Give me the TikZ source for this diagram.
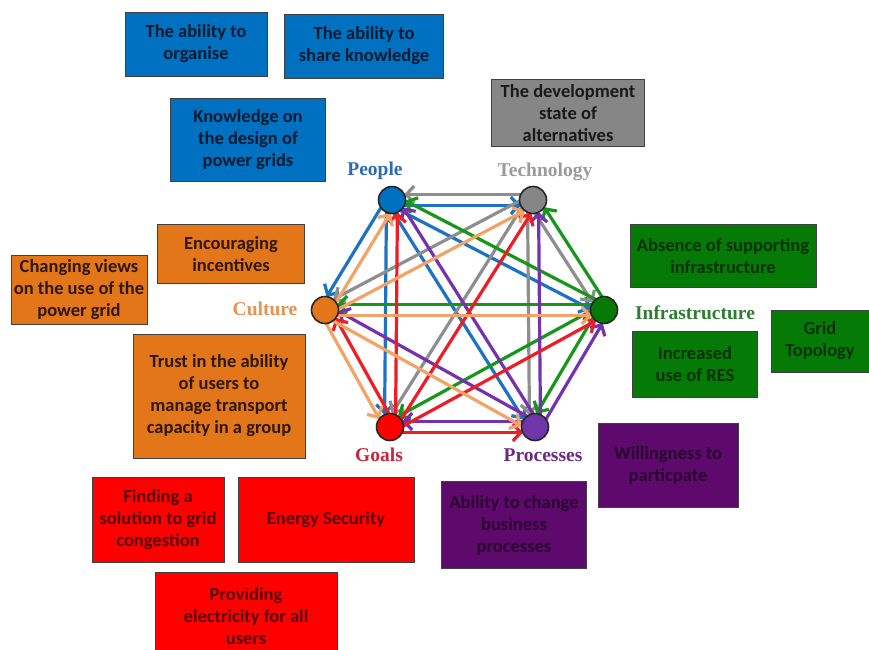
\documentclass[tikz,border=0pt]{standalone}
\usepackage{fontspec}
\setmainfont{Liberation Serif}
\newfontfamily\boxfont{Carlito}
\usetikzlibrary{calc,arrows.meta}
% fills
\definecolor{peoblue}{HTML}{0070C0}
\definecolor{tecgray}{HTML}{868686}
\definecolor{infgreen}{HTML}{067A06}
\definecolor{propurple}{HTML}{5E0A6C}
\definecolor{goared}{HTML}{FF0000}
\definecolor{culorange}{HTML}{E4761A}
\definecolor{hubpurple}{HTML}{7035A8}
% links
\definecolor{lpeo}{HTML}{1C72C4}
\definecolor{ltec}{HTML}{8E8E8E}
\definecolor{linf}{HTML}{16971A}
\definecolor{lpro}{HTML}{7432B0}
\definecolor{lgoa}{HTML}{EE1C24}
\definecolor{lcul}{HTML}{F2A466}
% names
\definecolor{tpeo}{HTML}{2D6AB2}
\definecolor{ttec}{HTML}{9A9A9A}
\definecolor{tinf}{HTML}{2E7D32}
\definecolor{tpro}{HTML}{6A2A82}
\definecolor{tgoa}{HTML}{C4283A}
\definecolor{tcul}{HTML}{E39452}
\tikzset{
  box/.style={draw=black!75, line width=1pt, align=center, inner sep=1pt,
    font=\boxfont\bfseries\fontsize{18.5pt}{22pt}\selectfont},
  bluebox/.style={box, fill=peoblue, text=black!75!peoblue},
  graybox/.style={box, fill=tecgray, text=black!90},
  orangebox/.style={box, fill=culorange, text=black!80!culorange},
  greenbox/.style={box, fill=infgreen, text=black!60!infgreen},
  redbox/.style={box, fill=goared, text=black!65!goared},
  purplebox/.style={box, fill=propurple, text=black!55!propurple},
  hub/.style={circle, draw=black!85, line width=1.6pt, minimum size=27pt, inner sep=0pt},
  hubname/.style={font=\bfseries\fontsize{19.5pt}{20pt}\selectfont},
  link/.style={line width=3.2pt, shorten <=12pt, shorten >=12pt,
    -{Straight Barb[length=8pt,width=17pt]}},
}
\begin{document}
\begin{tikzpicture}[x=1pt,y=-1pt]
\clip (0,0) rectangle (869,649);
\fill[white] (0,0) rectangle (869,649);
% hub places
\coordinate (peo) at (392,200);
\coordinate (tec) at (533,200);
\coordinate (inf) at (604,310);
\coordinate (pro) at (535,427);
\coordinate (goa) at (390,427);
\coordinate (cul) at (325,310);
% links, one each way, in the colour of the source
\foreach \s/\c/\ds in {peo/lpeo/{tec,inf,pro,goa,cul},
                      tec/ltec/{peo,inf,pro,goa,cul},
                      inf/linf/{peo,tec,pro,goa,cul},
                      pro/lpro/{peo,tec,inf,goa,cul},
                      goa/lgoa/{peo,tec,inf,pro,cul},
                      cul/lcul/{peo,tec,inf,pro,goa}}
  \foreach \d in \ds
    \draw[link,color=\c] ($(\s)!5.5pt!-90:(\d)$) -- ($(\d)!5.5pt!90:(\s)$);
% hubs
\node[hub,fill=peoblue] (peohub) at (peo) {};
\node[hub,fill=tecgray] (techub) at (tec) {};
\node[hub,fill=infgreen] (infhub) at (inf) {};
\node[hub,fill=hubpurple] (prohub) at (pro) {};
\node[hub,fill=goared] (goahub) at (goa) {};
\node[hub,fill=culorange] (culhub) at (cul) {};
% hub names
\node[hubname,text=tpeo] (peoname) at (375,171) {People};
\node[hubname,text=ttec] (tecname) at (545,172) {Technology};
\node[hubname,text=tinf] (infname) at (695,313) {Infrastructure};
\node[hubname,text=tpro] (proname) at (543,455) {Processes};
\node[hubname,text=tgoa] (goaname) at (379,455) {Goals};
\node[hubname,text=tcul] (culname) at (265,309) {Culture};
% People
\node[bluebox, minimum width=142pt, minimum height=64pt] (organise) at (196,44) {The ability to\\organise};
\node[bluebox, minimum width=159pt, minimum height=64pt] (share) at (364,46) {The ability to\\share knowledge};
\node[bluebox, minimum width=155pt, minimum height=83pt] (design) at (248,140) {Knowledge on\\the design of\\power grids};
% Technology
\node[graybox, minimum width=153pt, minimum height=67pt] (devstate) at (568,113) {The development\\state of\\alternatives};
% Culture
\node[orangebox, minimum width=147pt, minimum height=59pt] (incentives) at (231,254) {Encouraging\\incentives};
\node[orangebox, minimum width=136pt, minimum height=69pt] (views) at (79,290) {Changing views\\on the use of the\\power grid};
\node[orangebox, minimum width=172pt, minimum height=124pt] (trust) at (219,396) {Trust in the ability\\of users to\\manage transport\\capacity in a group};
% Infrastructure
\node[greenbox, minimum width=186pt, minimum height=63pt] (absence) at (723,256) {Absence of supporting\\infrastructure};
\node[greenbox, minimum width=98pt, minimum height=62pt] (topology) at (820,341) {Grid\\Topology};
\node[greenbox, minimum width=125pt, minimum height=66pt] (res) at (695,364) {Increased\\use of RES};
% Processes
\node[purplebox, minimum width=140pt, minimum height=84pt] (willing) at (668,465) {Willingness to\\particpate};
\node[purplebox, minimum width=145pt, minimum height=87pt] (business) at (514,525) {Ability to change\\business\\processes};
% Goals
\node[redbox, minimum width=132pt, minimum height=85pt] (congestion) at (158,520) {Finding a\\solution to grid\\congestion};
\node[redbox, minimum width=176pt, minimum height=85pt] (security) at (326,520) {Energy Security};
\node[redbox, minimum width=182pt, minimum height=88pt] (electricity) at (246,616) {Providing\\electricity for all\\users};
\end{tikzpicture}
\end{document}
